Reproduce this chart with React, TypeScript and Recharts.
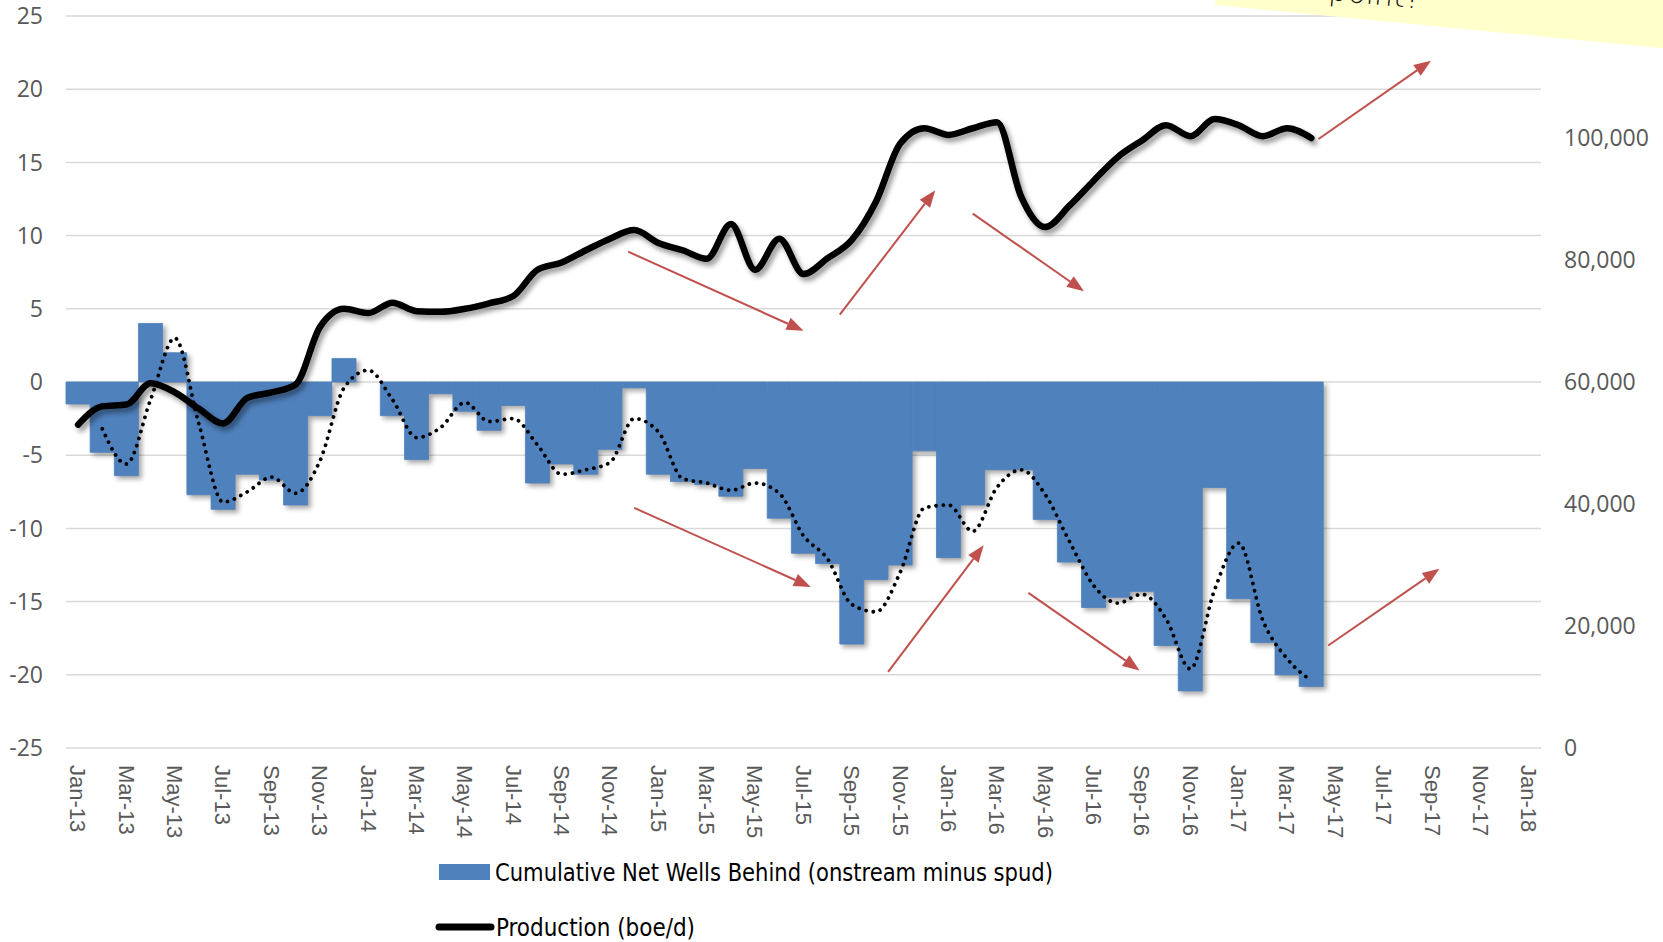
import React from "react";
import {
  ComposedChart,
  Bar,
  Line,
  XAxis,
  YAxis,
  CartesianGrid,
  ReferenceLine,
} from "recharts";

// ─── Data ────────────────────────────────────────────────────────────────────

const MONTH_NAMES = ["Jan", "Feb", "Mar", "Apr", "May", "Jun", "Jul", "Aug", "Sep", "Oct", "Nov", "Dec"];
const YEARS = ["13", "14", "15", "16", "17", "18"];
const MONTHS = YEARS.flatMap((y) => MONTH_NAMES.map((m) => `${m}-${y}`)).slice(0, 61); // Jan-13 .. Jan-18

// Cumulative net wells behind (onstream minus spud), Jan-13 .. Apr-17
const WELLS_BEHIND = [
  -1.5, -4.8, -6.4, 4.0, 2.0, -7.7, -8.7, -6.3, -6.7, -8.4, -2.3, 1.6,
  0, -2.3, -5.3, -0.8, -2.0, -3.3, -1.6, -6.9, -5.6, -6.3, -4.6, -0.4,
  -6.3, -6.8, -7.0, -7.8, -5.9, -9.3, -11.7, -12.4, -17.9, -13.5, -12.5, -4.7,
  -12.0, -8.4, -6.0, -6.0, -9.4, -12.3, -15.4, -14.7, -14.3, -18.0, -21.1, -7.2,
  -14.8, -17.8, -20.0, -20.8,
];

// dotted trend (2-month moving average)
const WELLS_TREND = [
  null, -3.2, -5.6, -1.2, 3.0, -2.9, -8.2, -7.5, -6.5, -7.6, -5.4, -0.4,
  0.8, -1.2, -3.8, -3.1, -1.4, -2.7, -2.5, -4.3, -6.3, -6.0, -5.5, -2.5,
  -3.4, -6.6, -6.9, -7.4, -6.9, -7.6, -10.5, -12.1, -15.2, -15.7, -13.0, -8.6,
  -8.4, -10.2, -7.2, -6.0, -7.7, -10.9, -13.9, -15.1, -14.5, -16.2, -19.6, -14.2,
  -11.0, -16.3, -18.9, -20.4,
];

// Production (boe/d), Jan-13 .. Apr-17
const PRODUCTION = [
  53000, 56000, 56300, 59800, 58300, 55600, 53200, 57400, 58300, 59600, 69000, 72000,
  71300, 73000, 71600, 71500, 72000, 72900, 74100, 78400, 79600, 81600, 83500, 84900,
  82800, 81600, 80200, 85900, 78400, 83500, 77700, 80300, 83300, 89600, 99100, 101600,
  100500, 101600, 102600, 90400, 85400, 88900, 93000, 96900, 99600, 102100, 100300, 103100,
  102100, 100300, 101600, 100000,
];

const LEFT_TICKS = [-25, -20, -15, -10, -5, 0, 5, 10, 15, 20, 25];
const RIGHT_TICKS = [0, 20000, 40000, 60000, 80000, 100000];

// annotation arrows: [fromMonthPos, fromWells, toMonthPos, toWells]
// month position 0 = left edge of Jan-13, 61 = right edge of Jan-18
const ARROWS = [
  [23.25, 8.9, 30.5, 3.5],
  [32.0, 4.6, 35.95, 13.1],
  [37.5, 11.5, 42.1, 6.2],
  [51.8, 16.6, 56.45, 21.95],
  [23.5, -8.6, 30.8, -14.0],
  [34.0, -19.8, 37.95, -11.15],
  [39.8, -14.4, 44.4, -19.7],
  [52.2, -18.0, 56.8, -12.75],
];

const rows = MONTHS.map((month, i) => ({
  month,
  slot: i + 0.5,
  wells: WELLS_BEHIND[i],
  trend: WELLS_TREND[i],
  production: PRODUCTION[i],
}));

// ─── Pieces ──────────────────────────────────────────────────────────────────

const AXIS_FONT = "'Open Sans', 'Noto Sans', sans-serif";
const LABEL_FONT = "'Liberation Sans', Arial, sans-serif";
const NARROW_FONT = "'Liberation Sans Narrow', 'DejaVu Sans Condensed', 'Liberation Sans', sans-serif";
const BLUE = "#4f81bd";
const RED = "#c0504d";

function MonthTick({ x, y, payload }: any) {
  const ty = y + 15;
  return (
    <text
      x={x}
      y={ty}
      transform={`rotate(90, ${x}, ${ty})`}
      textAnchor="start"
      dy="0.35em"
      fill="#595959"
      fontSize={22}
      fontFamily={LABEL_FONT}
    >
      {payload.value}
    </text>
  );
}

function ArrowShape({ x1, y1, x2, y2 }: any) {
  const dx = x2 - x1;
  const dy = y2 - y1;
  const len = Math.hypot(dx, dy) || 1;
  const ux = dx / len;
  const uy = dy / len;
  const head = 17;
  const half = 6.5;
  const bx = x2 - ux * head;
  const by = y2 - uy * head;
  return (
    <g>
      <line x1={x1} y1={y1} x2={bx} y2={by} stroke={RED} strokeWidth={2} />
      <polygon
        points={`${x2},${y2} ${bx - uy * half},${by + ux * half} ${bx + uy * half},${by - ux * half}`}
        fill={RED}
      />
    </g>
  );
}

// ─── App ─────────────────────────────────────────────────────────────────────

export default function App() {
  return (
    <div
      style={{
        position: "absolute",
        left: 0,
        top: 0,
        width: 1663,
        height: 942,
        overflow: "hidden",
        background: "#fff",
      }}
    >
      <style>{`
        .wells .recharts-bar-rectangles { filter: drop-shadow(3px 3px 2.5px rgba(0,0,0,0.35)); }
        .prod .recharts-line-curve { filter: drop-shadow(3px 4px 2.5px rgba(0,0,0,0.4)); }
      `}</style>

      <ComposedChart
        width={1663}
        height={942}
        data={rows}
        margin={{ top: 16, right: 0, bottom: 0, left: 0 }}
        barCategoryGap={0}
        barGap={0}
      >
        <CartesianGrid xAxisId="cat" yAxisId="left" vertical={false} stroke="#d9d9d9" strokeWidth={1.5} />
        <XAxis
          xAxisId="cat"
          dataKey="month"
          interval={1}
          axisLine={false}
          tickLine={false}
          tickSize={0}
          height={194}
          tick={MonthTick}
        />
        <XAxis
          xAxisId="num"
          dataKey="slot"
          type="number"
          domain={[0, 61]}
          ticks={[0, 61]}
          allowDataOverflow
          hide
        />
        <YAxis
          yAxisId="left"
          domain={[-25, 25]}
          ticks={LEFT_TICKS}
          interval={0}
          width={66}
          axisLine={false}
          tickLine={false}
          tickSize={0}
          tickMargin={23}
          tick={{ fontSize: 23, fill: "#595959", fontFamily: AXIS_FONT }}
        />
        <YAxis
          yAxisId="right"
          orientation="right"
          domain={[0, 120000]}
          ticks={RIGHT_TICKS}
          interval={0}
          width={122}
          axisLine={false}
          tickLine={false}
          tickSize={0}
          tickMargin={23}
          tickFormatter={(v: number) => v.toLocaleString("en-US")}
          tick={{ fontSize: 23, fill: "#595959", fontFamily: AXIS_FONT }}
        />
        <Bar
          xAxisId="cat"
          yAxisId="left"
          dataKey="wells"
          fill={BLUE}
          stroke={BLUE}
          strokeWidth={0.8}
          className="wells"
          isAnimationActive={false}
        />
        <Line
          xAxisId="cat"
          yAxisId="left"
          dataKey="trend"
          type="monotone"
          stroke="#000"
          strokeWidth={3.8}
          strokeDasharray="0.01 7.3"
          strokeLinecap="round"
          dot={false}
          activeDot={false}
          isAnimationActive={false}
        />
        <Line
          xAxisId="cat"
          yAxisId="right"
          dataKey="production"
          type="monotone"
          stroke="#000"
          strokeWidth={6.5}
          strokeLinecap="round"
          strokeLinejoin="round"
          className="prod"
          dot={false}
          activeDot={false}
          isAnimationActive={false}
        />
        {ARROWS.map((a, i) => (
          <ReferenceLine
            key={i}
            xAxisId="num"
            yAxisId="left"
            segment={[
              { x: a[0], y: a[1] },
              { x: a[2], y: a[3] },
            ]}
            ifOverflow="visible"
            shape={ArrowShape}
          />
        ))}
      </ComposedChart>

      {/* legend */}
      <svg width={1663} height={942} style={{ position: "absolute", left: 0, top: 0, pointerEvents: "none" }}>
        <rect x={439} y={864} width={51} height={16} fill={BLUE} />
        <text
          x={495}
          y={881}
          fontSize={25}
          fontFamily={NARROW_FONT}
          fill="#000"
          textLength={558}
          lengthAdjust="spacingAndGlyphs"
        >
          Cumulative Net Wells Behind (onstream minus spud)
        </text>
        <line x1={439} y1={927} x2={491} y2={927} stroke="#000" strokeWidth={7} strokeLinecap="round" />
        <text
          x={496}
          y={936}
          fontSize={25}
          fontFamily={NARROW_FONT}
          fill="#000"
          textLength={199}
          lengthAdjust="spacingAndGlyphs"
        >
          Production (boe/d)
        </text>
      </svg>

      {/* sticky note */}
      <div
        style={{
          position: "absolute",
          left: 1215,
          top: -300,
          width: 620,
          height: 305,
          background: "#ffffcc",
          transform: "rotate(5.5deg)",
          transformOrigin: "0 100%",
        }}
      >
        <span
          style={{
            position: "absolute",
            left: 112,
            bottom: 11,
            fontSize: 30,
            fontFamily: "'DejaVu Sans', sans-serif",
            fontWeight: 200,
            color: "#111",
            lineHeight: 1,
          }}
        >
          point?
        </span>
      </div>
    </div>
  );
}
